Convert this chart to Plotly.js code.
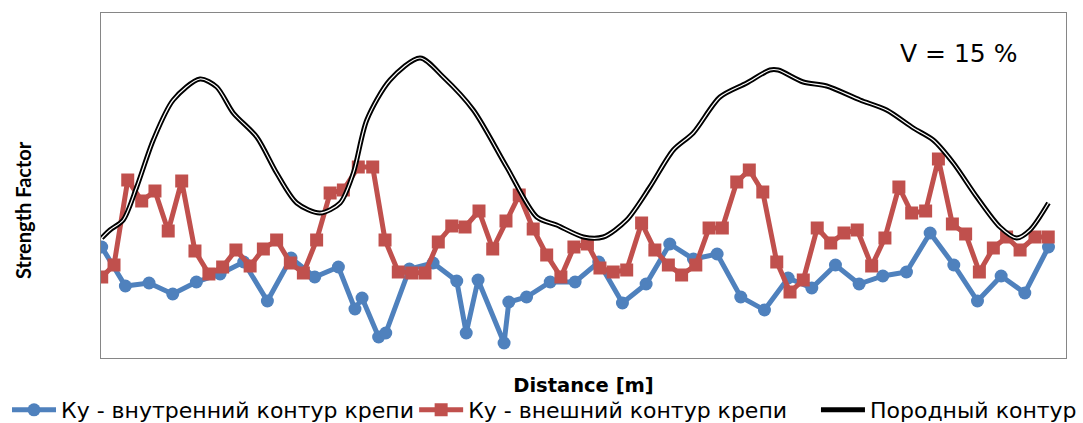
<!DOCTYPE html>
<html>
<head>
<meta charset="utf-8">
<script src="https://cdn.plot.ly/plotly-3.0.1.min.js"></script>
<style>html,body{margin:0;padding:0;background:#fff;}#chart{width:1083px;height:423px;}</style>
</head>
<body>
<div id="chart"></div>
<script>
// Distance values [m]
const innerX = [0,1,2,3,4,5,6,7,8,9,10,10.7,11,11.7,12,13,14,15,15.4,15.9,17,17.2,17.95,18.95,20,21,22,23,24,25,26,27,28,29,30,31,32,33,34,35,36,37,38,39,40];
const innerY = [1.10,0.71,0.74,0.63,0.75,0.83,0.95,0.56,0.99,0.80,0.90,0.48,0.59,0.20,0.24,0.88,0.94,0.76,0.24,0.77,0.14,0.55,0.60,0.75,0.75,0.95,0.54,0.73,1.13,0.98,1.03,0.60,0.47,0.79,0.69,0.92,0.73,0.81,0.85,1.24,0.92,0.56,0.81,0.64,1.10];

const outerX = [0,0.52,1.10,1.69,2.25,2.81,3.38,3.94,4.53,5.11,5.67,6.27,6.83,7.39,7.97,8.52,9.08,9.65,10.21,10.84,11.45,11.97,12.53,13.10,13.66,14.22,14.79,15.35,15.94,16.52,17.08,17.64,18.23,18.80,19.40,19.95,20.52,21.05,21.61,22.18,22.81,23.37,23.94,24.50,25.10,25.66,26.22,26.83,27.36,27.93,28.52,29.08,29.64,30.23,30.80,31.36,31.92,32.53,33.09,33.68,34.22,34.81,35.35,35.94,36.50,37.08,37.67,38.23,38.80,39.43,39.99];
const outerY = [0.80,0.92,1.77,1.56,1.66,1.26,1.76,1.06,0.83,0.90,1.07,0.91,1.08,1.17,0.94,0.84,1.17,1.64,1.67,1.90,1.90,1.17,0.85,0.84,0.84,1.15,1.31,1.30,1.46,1.08,1.36,1.62,1.28,1.02,0.80,1.10,1.13,0.89,0.85,0.87,1.34,1.07,0.92,0.82,0.92,1.29,1.29,1.75,1.87,1.65,0.95,0.65,0.77,1.29,1.14,1.24,1.27,0.91,1.19,1.70,1.44,1.46,1.98,1.33,1.23,0.85,1.09,1.20,1.07,1.20,1.20];

const rockX = [0,0.35,0.91,1.48,2.18,3.02,4.15,4.86,5.56,6.55,7.39,8.24,9.22,10.07,10.63,11.20,12.18,13.45,14.43,15.70,17.11,18.38,19.22,20.35,21.19,22.18,23.16,24.15,24.99,26.12,27.25,28.23,28.58,29.64,30.63,32.04,33.16,34.29,35.13,35.98,36.97,37.95,38.66,39.22,40];
const rockY = [1.19,1.27,1.37,1.70,2.17,2.57,2.78,2.70,2.44,2.20,1.84,1.54,1.44,1.54,1.84,2.37,2.77,2.99,2.80,2.47,1.90,1.40,1.32,1.20,1.20,1.37,1.70,2.07,2.24,2.60,2.74,2.87,2.87,2.75,2.71,2.57,2.47,2.29,2.17,1.94,1.60,1.30,1.19,1.27,1.54];

const names = ['Ку - внутренний контур крепи', 'Ку - внешний контур крепи', 'Породный контур'];
const xTitle = 'Distance [m]';
const yTitle = 'Strength Factor';
const noteText = 'V = 15 %';

const traces = [
  {x: innerX, y: innerY, name: names[0], mode: 'lines+markers', type: 'scatter', legend: 'legend',
   line: {color: '#4F81BD', width: 5}, marker: {symbol: 'circle', size: 13, color: '#4F81BD'}},
  {x: outerX, y: outerY, name: names[1], mode: 'lines+markers', type: 'scatter', legend: 'legend2',
   line: {color: '#C0504D', width: 5}, marker: {symbol: 'square', size: 13, color: '#C0504D'}},
  {x: rockX, y: rockY, name: names[2], mode: 'lines', type: 'scatter', legend: 'legend3',
   line: {color: '#000000', width: 5, shape: 'spline', smoothing: 0.8}},
  {x: rockX, y: rockY, name: names[2], mode: 'lines', type: 'scatter', showlegend: false, legend: 'legend3',
   line: {color: '#ffffff', width: 1.2, shape: 'spline', smoothing: 0.8}, hoverinfo: 'skip'}
];

function legendAt(x, size) {
  return {orientation: 'h', x: x, xanchor: 'left', y: -0.09, yanchor: 'top',
          font: {family: 'DejaVu Sans', size: size, color: '#000000'}, itemwidth: 44,
          bgcolor: 'rgba(0,0,0,0)'};
}

const layout = {
  width: 1083, height: 423,
  margin: {l: 101, r: 17, t: 13, b: 65, autoexpand: false},
  paper_bgcolor: '#ffffff', plot_bgcolor: '#ffffff',
  font: {family: 'DejaVu Sans', color: '#000000'},
  showlegend: true,
  legend: legendAt(-0.0974, 22),
  legend2: legendAt(0.3245, 22),
  legend3: legendAt(0.7409, 22),
  xaxis: {range: [-0.03, 40.74], showticklabels: false, ticks: '', showgrid: false, zeroline: false,
          showline: true, linecolor: '#868686', linewidth: 1, mirror: true, automargin: false,
          title: {text: '<b>' + xTitle + '</b>', font: {family: 'DejaVu Sans', size: 19.5, color: '#000'}, standoff: 20}},
  yaxis: {range: [-0.01, 3.44], showticklabels: false, ticks: '', showgrid: false, zeroline: false,
          showline: true, linecolor: '#868686', linewidth: 1, mirror: true, automargin: false},
  annotations: [
    {text: '<b>' + yTitle + '</b>', xref: 'paper', yref: 'paper', x: -0.0808, y: 0.429, xanchor: 'center', yanchor: 'middle',
     textangle: -90, showarrow: false, font: {family: 'Lato', size: 20, color: '#000'}},
    {text: noteText, xref: 'paper', yref: 'paper', x: 0.951, y: 0.882, xanchor: 'right', yanchor: 'middle',
     showarrow: false, font: {family: 'DejaVu Sans', size: 25, color: '#000'}}
  ]
};

Plotly.newPlot('chart', traces, layout, {displayModeBar: false, staticPlot: true});
</script>
</body>
</html>
